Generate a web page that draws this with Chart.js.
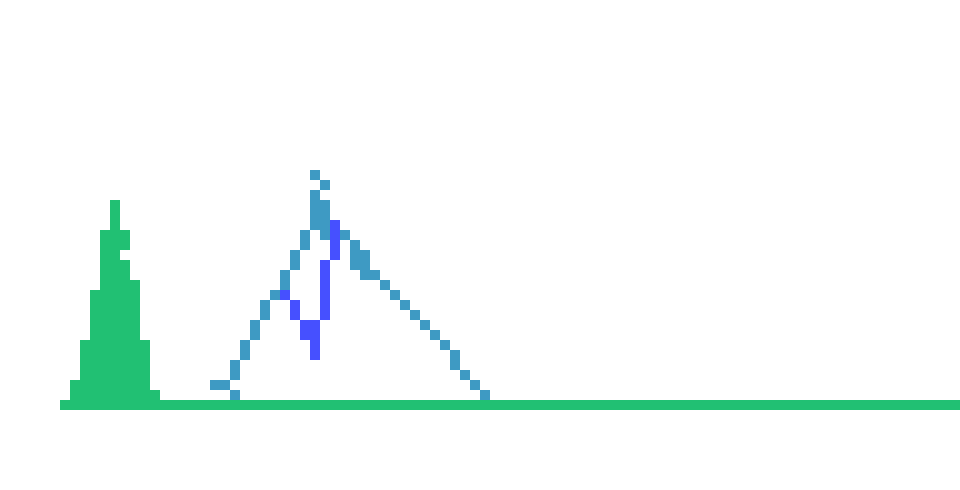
<!DOCTYPE html>
<html>
<head>
<meta charset="utf-8">
<script src="https://cdn.jsdelivr.net/npm/chart.js@4.4.1/dist/chart.umd.min.js"></script>
<style>
  html, body { margin: 0; padding: 0; background: #ffffff; }
  #wrap { width: 960px; height: 490px; position: relative; }
</style>
</head>
<body>
<div id="wrap"><canvas id="c"></canvas></div>
<script>
// ---- data (column index on x, value units on y) ----
const columnCount = 96;
const yMin = -9;
const yMax = 40;

// green histogram
const histBase = -1;
const histCols = [6, 7, 8, 9, 10, 11, 12, 13, 14, 15];
const histTops = [0, 2, 6, 11, 17, 20, 14, 12, 6, 1];
const baselineFrom = 16;
const baselineTo = 95;
const baselineTop = 0;
const histExtraCols = [12];
const histExtraLow = [15];
const histExtraHigh = [17];

// light blue series
const lightCols = [21, 22, 23, 24, 25, 26, 27, 28, 29, 30, 31, 32, 34, 35, 36, 37, 38, 39, 40, 41, 42, 43, 44, 45, 46, 47, 48];
const lightLow  = [1, 1, 2, 4, 6, 8, 10, 11, 13, 15, 17, 16, 16, 13, 12, 12, 11, 10, 9, 8, 7, 6, 5, 3, 2, 1, 0];
const lightHigh = [2, 2, 4, 6, 8, 10, 11, 13, 15, 17, 21, 20, 17, 16, 15, 13, 12, 11, 10, 9, 8, 7, 6, 5, 3, 2, 1];
const lightExtraCols = [23, 31, 32];
const lightExtraLow  = [0, 22, 21];
const lightExtraHigh = [1, 23, 22];

// dark blue series
const darkCols = [28, 29, 30, 31, 32, 33];
const darkLow  = [10, 8, 6, 4, 8, 14];
const darkHigh = [11, 10, 8, 8, 14, 18];

// ---- build tables ----
const labels = [];
for (let i = 0; i < columnCount; i++) labels.push(String(i));

function table(cols, lows, highs) {
  const arr = new Array(columnCount).fill(null);
  cols.forEach((c, i) => {
    const lo = Array.isArray(lows) ? lows[i] : lows;
    arr[c] = [lo, highs[i]];
  });
  return arr;
}

const greenMain = table(histCols, histBase, histTops);
for (let c = baselineFrom; c <= baselineTo; c++) greenMain[c] = [histBase, baselineTop];
const greenExtra = table(histExtraCols, histExtraLow, histExtraHigh);
const lightMain = table(lightCols, lightLow, lightHigh);
const lightExtra = table(lightExtraCols, lightExtraLow, lightExtraHigh);
const darkMain = table(darkCols, darkLow, darkHigh);

const GREEN = '#21c073';
const LIGHT = '#3e9ac3';
const DARK = '#4650ff';

function ds(data, color) {
  return {
    data: data,
    backgroundColor: color,
    borderWidth: 0,
    borderSkipped: false,
    barPercentage: 1,
    categoryPercentage: 1,
    grouped: false,
    inflateAmount: 0
  };
}

new Chart(document.getElementById('c'), {
  type: 'bar',
  data: {
    labels: labels,
    datasets: [
      ds(greenMain, GREEN),
      ds(greenExtra, GREEN),
      ds(lightMain, LIGHT),
      ds(lightExtra, LIGHT),
      ds(darkMain, DARK)
    ]
  },
  options: {
    responsive: true,
    maintainAspectRatio: false,
    animation: false,
    layout: { padding: 0 },
    plugins: { legend: { display: false }, tooltip: { enabled: false } },
    scales: {
      x: { display: false, offset: true, grid: { display: false } },
      y: { display: false, min: yMin, max: yMax, grid: { display: false } }
    }
  }
});
</script>
</body>
</html>
